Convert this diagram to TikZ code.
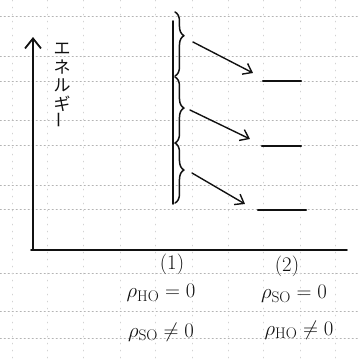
\documentclass[tikz,border=0pt]{standalone}
\usepackage{fontspec}
\newfontfamily\jpfont{Noto Sans CJK JP}
\usetikzlibrary{arrows.meta, decorations.pathreplacing, positioning}
\definecolor{cink}{HTML}{111111}
\definecolor{cgrid}{HTML}{B4B4B4}
\tikzset{
  every picture/.style={line width=1.6pt, line cap=round, line join=round},
  axis/.style={draw=cink, line width=1.8pt},
  gridline/.style={draw=cgrid, line width=0.5pt, dash pattern=on 1.5pt off 2.5pt},
  bracket/.style={draw=cink, line width=1.5pt, decorate, decoration={brace, amplitude=9pt, aspect=#1}},
  bracket/.default=0.5,
  transarrow/.style={-{Straight Barb[length=8pt, width=12pt]}, draw=cink, line width=1.4pt},
  level/.style={draw=cink, line width=2.4pt},
  cond/.style={font=\fontsize{22}{24}\selectfont, text=cink, inner sep=0pt},
  caselabel/.style={font=\huge, text=cink, inner sep=0pt},
}

\begin{document}
\begin{tikzpicture}[x=1pt, y=-1pt]
  \useasboundingbox (0,0) rectangle (358,360);
  % graph paper
  \foreach \gy in {16,56,81,120,145,185,209,273,311,338} \draw[gridline] (0,\gy) -- (358,\gy);
  \foreach \gx in {12,47,83,120,155,192,228,263,300,335} \draw[gridline, draw=cgrid!60, dash pattern=on 1pt off 6pt] (\gx,0) -- (\gx,360);

  % axes
  \coordinate (origin) at (33,250);
  \coordinate (ytop) at (33,37);
  \coordinate (xend) at (347,250);
  \draw[axis, -{Straight Barb[length=10pt, width=16pt]}] (origin) -- (ytop);
  \draw[axis] ([xshift=-2pt]origin) -- (xend);
  \node[font=\jpfont\fontsize{17}{18.5}\selectfont, text=cink, align=center, inner sep=0pt] (energy) at (62,86)
    {エ\\ネ\\ル\\ギ\\\rotatebox{90}{ー}};

  % (1): split levels
  \coordinate (bartop) at (173,21);
  \coordinate (barbot) at (173,204);
  \draw[axis, line width=1.6pt] (bartop) -- (barbot);
  \foreach \n/\ya/\yb/\asp/\tx/\ty/\ex/\ey in {1/12/76/0.37/193/42/253/73, 2/77/143/0.47/190/110/250/139, 3/143/203/0.45/192/173/245/204} {
    \draw[bracket=\asp] (175,\ya) -- (175,\yb);
    \coordinate (tip\n) at (\tx,\ty);
    \coordinate (head\n) at (\ex,\ey);
    \draw[transarrow] (tip\n) -- (head\n);
  }

  % (2): single levels
  \foreach \n/\xa/\xb/\y in {1/263/301/81, 2/262/301/146, 3/258/306/210} {
    \coordinate (lvlL\n) at (\xa,\y);
    \coordinate (lvlR\n) at (\xb,\y);
    \draw[level] (lvlL\n) -- (lvlR\n);
  }

  \node[caselabel] (case1) at (172,264) {(1)};
  \node[caselabel] (case2) at (287,266) {(2)};
  \node[cond] (c1a) at (161,293) {$\rho_{\mathrm{HO}}=0$};
  \node[cond] (c1b) at (161,332) {$\rho_{\mathrm{SO}}\neq0$};
  \node[cond] (c2a) at (294,294) {$\rho_{\mathrm{SO}}=0$};
  \node[cond] (c2b) at (299,330) {$\rho_{\mathrm{HO}}\neq0$};
\end{tikzpicture}
\end{document}
